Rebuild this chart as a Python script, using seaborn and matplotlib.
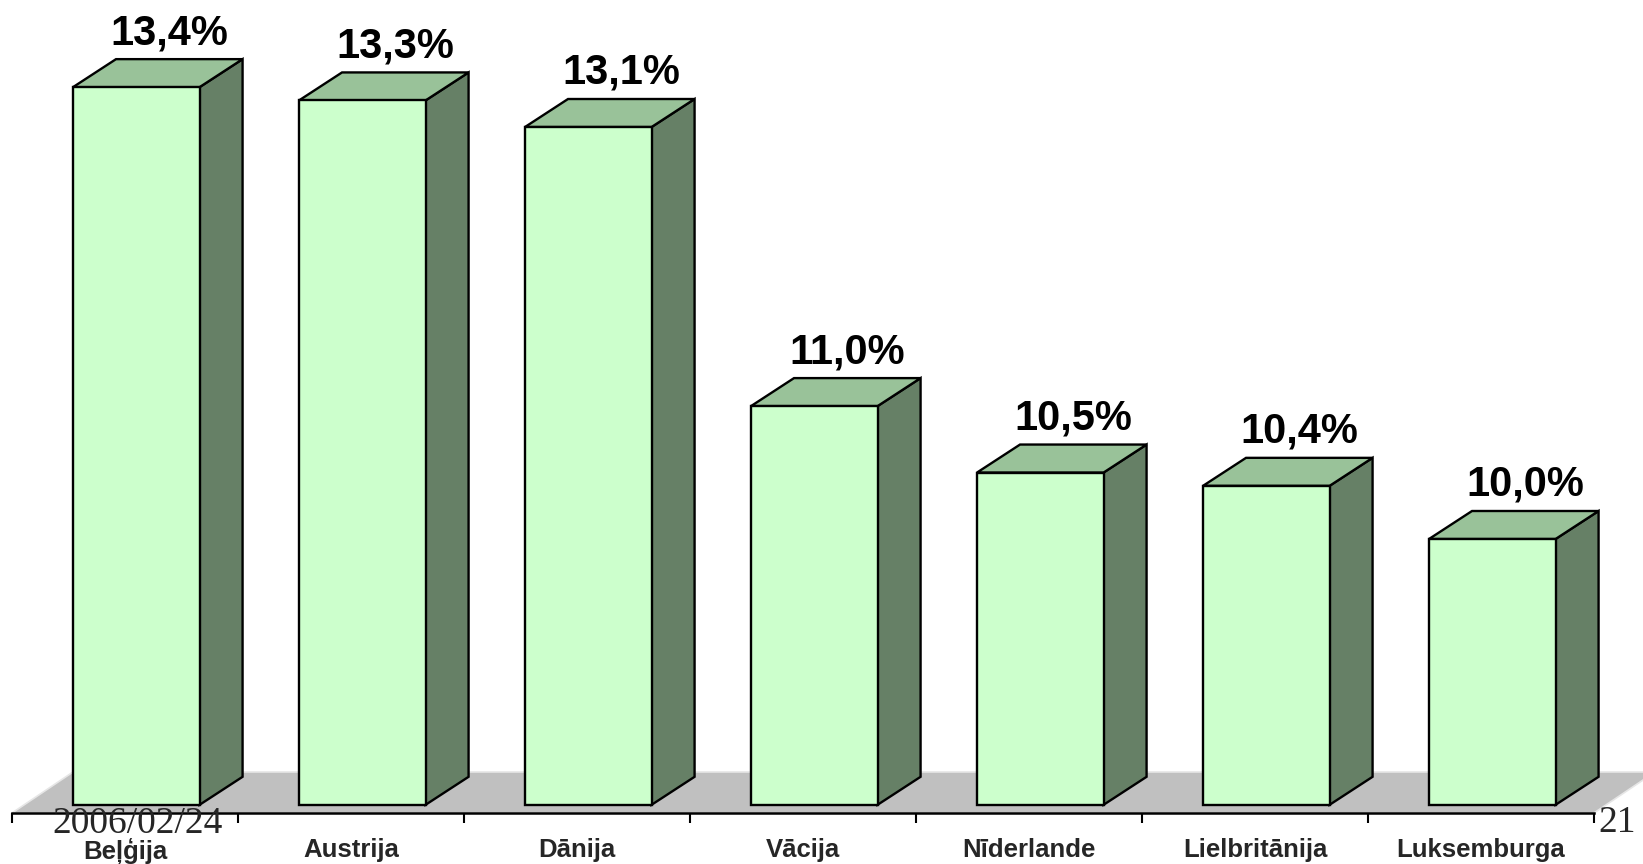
import matplotlib
matplotlib.use("Agg")
import matplotlib.pyplot as plt
import numpy as np
import seaborn as sns
from matplotlib.patches import Polygon

countries = ["Beļģija", "Austrija", "Dānija", "Vācija", "Nīderlande", "Lielbritānija", "Luksemburga"]
values = [13.4, 13.3, 13.1, 11.0, 10.5, 10.4, 10.0]
labels = ["13,4%", "13,3%", "13,1%", "11,0%", "10,5%", "10,4%", "10,0%"]
date_text = "2006/02/24"
page_text = "21"

Y_MIN = 8
FRONT = "#CCFFCC"
TOP = "#99C299"
SIDE = "#668066"
FLOOR = "#C0C0C0"

W, H, DPI = 1643, 864, 100
BAR_SHIFT = 0.05          # bars sit back in the floor, so they look moved right
BAR_DEPTH = (43, 28)      # pixels
FLOOR_DEPTH = (61, 41)
EDGE_LW = 1.7

sns.set_theme(style="white")
plt.rcParams["font.family"] = ["Liberation Sans", "DejaVu Sans"]

fig = plt.figure(figsize=(W / DPI, H / DPI), dpi=DPI, facecolor="white")
ax = fig.add_axes([12 / W, (H - 813) / H, (1594 - 12) / W, 813 / H])

sns.barplot(x=countries, y=values, order=countries, color=FRONT, saturation=1,
            edgecolor="black", linewidth=EDGE_LW, width=0.56, ax=ax)

n = len(countries)
ax.set_xlim(-0.5 - BAR_SHIFT, n - 0.5 - BAR_SHIFT)
ax.set_ylim((1868 - 813) / 132.9, 1868 / 132.9)


def shift(x, y, d):
    disp = ax.transData.transform((x, y))
    return ax.transData.inverted().transform(disp + np.array(d))


# floor
x0, x1 = ax.get_xlim()
y0 = ax.get_ylim()[0]
floor = Polygon([(x0, y0), (x1, y0), shift(x1, y0, FLOOR_DEPTH), shift(x0, y0, FLOOR_DEPTH)],
                closed=True, facecolor=FLOOR, edgecolor="#E6E6E6", linewidth=1.2,
                zorder=0.5, clip_on=False)
ax.add_patch(floor)

# 3d faces on each bar
for p, v, lab in zip(ax.patches[:n], values, labels):
    top = p.get_height()
    p.set_y(Y_MIN)
    p.set_height(top - Y_MIN)
    p.set_joinstyle("miter")
    xl = p.get_x()
    xr = xl + p.get_width()
    top_face = Polygon([(xl, top), (xr, top), shift(xr, top, BAR_DEPTH), shift(xl, top, BAR_DEPTH)],
                       closed=True, facecolor=TOP, edgecolor="black", linewidth=EDGE_LW,
                       joinstyle="miter", zorder=2, clip_on=False)
    side_face = Polygon([(xr, Y_MIN), shift(xr, Y_MIN, BAR_DEPTH), shift(xr, top, BAR_DEPTH), (xr, top)],
                        closed=True, facecolor=SIDE, edgecolor="black", linewidth=EDGE_LW,
                        joinstyle="miter", zorder=2, clip_on=False)
    ax.add_patch(side_face)
    ax.add_patch(top_face)
    p.set_zorder(2.1)
    ax.annotate(lab, xy=(xl + p.get_width() / 2, top), xytext=(24, 31),
                textcoords="offset points", ha="center", va="baseline",
                fontsize=30, fontweight="bold", color="black")

for s in ["left", "top", "right"]:
    ax.spines[s].set_visible(False)
ax.spines["bottom"].set_color("black")
ax.spines["bottom"].set_linewidth(1.8)

ax.set_yticks([])
ax.set_xticks(np.arange(n + 1) - 0.5 - BAR_SHIFT)
ax.set_xticklabels([])
ax.set_xticks(np.arange(n) - BAR_SHIFT, minor=True)
ax.set_xticklabels(countries, minor=True, fontsize=18.5, fontweight="bold")
ax.tick_params(axis="x", which="major", length=7.5, width=1.5, direction="out", color="black", bottom=True)
ax.tick_params(axis="x", which="minor", length=0, pad=18)
ax.set_xlabel("")
ax.set_ylabel("")
ax.set_facecolor("none")

fig.text(52 / W, (H - 833) / H, date_text, fontsize=27, family=["Liberation Serif", "DejaVu Serif"],
         ha="left", va="baseline")
fig.text(1598 / W, (H - 832) / H, page_text, fontsize=27, family=["Liberation Serif", "DejaVu Serif"],
         ha="left", va="baseline")

fig.savefig("out.png", dpi=DPI, facecolor="white")
